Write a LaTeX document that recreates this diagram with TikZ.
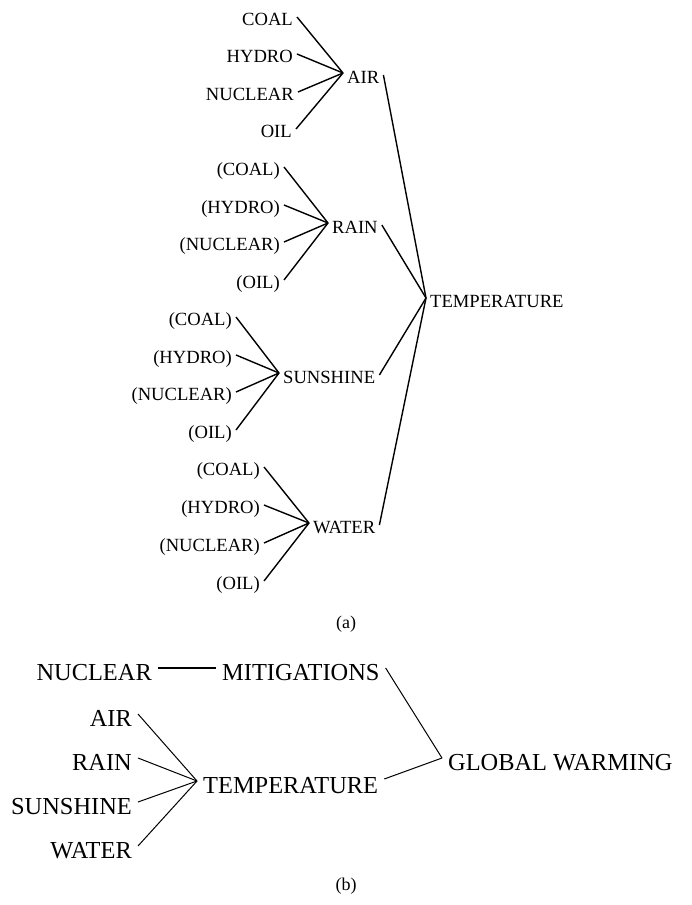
\documentclass[tikz,border=0pt]{standalone}
\usepackage{fontspec}
\setmainfont{Liberation Serif}
\begin{document}
\begin{tikzpicture}[x=1pt,y=-1pt,
  lbla/.style={inner xsep=4pt,inner ysep=0pt,text height=12.5pt,text depth=0pt,
               font=\fontsize{18.6}{20}\selectfont},
  lblb/.style={inner xsep=6pt,inner ysep=0pt,text height=16pt,text depth=0pt,
               font=\fontsize{24.4}{26}\selectfont},
  linka/.style={line width=1.4pt},
  linkb/.style={line width=1pt},
  sublabel/.style={inner sep=0pt,font=\fontsize{18}{20}\selectfont}]
\useasboundingbox (0,0) rectangle (691,905);

% ---------- (a) ----------
\node[lbla,anchor=west] (air) at (343,77) {AIR};
\node[lbla,anchor=west] (rain) at (328,227) {RAIN};
\node[lbla,anchor=west] (sun) at (279,377) {SUNSHINE};
\node[lbla,anchor=west] (water) at (309,527) {WATER};
\node[lbla,anchor=west] (temp) at (426,301) {TEMPERATURE};

% sources feeding AIR
\node[lbla,anchor=east] (a1) at (297,19) {COAL};
\node[lbla,anchor=east] (a2) at (297,56) {HYDRO};
\node[lbla,anchor=east] (a3) at (298,94) {NUCLEAR};
\node[lbla,anchor=east] (a4) at (296,131) {OIL};
% sources feeding RAIN
\node[lbla,anchor=east] (r1) at (284,169) {(COAL)};
\node[lbla,anchor=east] (r2) at (284,207) {(HYDRO)};
\node[lbla,anchor=east] (r3) at (284,244) {(NUCLEAR)};
\node[lbla,anchor=east] (r4) at (284,282) {(OIL)};
% sources feeding SUNSHINE
\node[lbla,anchor=east] (s1) at (236,319) {(COAL)};
\node[lbla,anchor=east] (s2) at (236,357) {(HYDRO)};
\node[lbla,anchor=east] (s3) at (236,394) {(NUCLEAR)};
\node[lbla,anchor=east] (s4) at (236,432) {(OIL)};
% sources feeding WATER
\node[lbla,anchor=east] (w1) at (264,469) {(COAL)};
\node[lbla,anchor=east] (w2) at (264,507) {(HYDRO)};
\node[lbla,anchor=east] (w3) at (264,545) {(NUCLEAR)};
\node[lbla,anchor=east] (w4) at (264,583) {(OIL)};

\foreach \s in {a1,a2,a3,a4}
  \draw[linka] ([yshift=2pt]\s.east) -- ([yshift=4pt]air.west);
\foreach \s in {r1,r2,r3,r4}
  \draw[linka] ([yshift=2pt]\s.east) -- ([yshift=4pt]rain.west);
\foreach \s in {s1,s2,s3,s4}
  \draw[linka] ([yshift=2pt]\s.east) -- ([yshift=4pt]sun.west);
\foreach \s in {w1,w2,w3,w4}
  \draw[linka] ([yshift=2pt]\s.east) -- ([yshift=4pt]water.west);
\foreach \s in {air,rain,sun,water}
  \draw[linka] ([yshift=2pt]\s.east) -- ([yshift=3pt]temp.west);

\node[sublabel] (capa) at (346,624) {(a)};

% ---------- (b) ----------
\node[lblb,anchor=east] (nuc) at (158,672) {NUCLEAR};
\node[lblb,anchor=west] (mit) at (216,672) {MITIGATIONS};
\node[lblb,anchor=west] (tempb) at (197,785) {TEMPERATURE};
\node[lblb,anchor=west] (gw) at (442,762) {GLOBAL WARMING};
\node[lblb,anchor=east] (bair) at (138,718) {AIR};
\node[lblb,anchor=east] (brain) at (138,762) {RAIN};
\node[lblb,anchor=east] (bsun) at (138,806) {SUNSHINE};
\node[lblb,anchor=east] (bwater) at (138,850) {WATER};

\draw[linka] ([yshift=4pt]nuc.east) -- ([yshift=4pt]mit.west);
\draw[linkb] ([yshift=4pt]mit.east) -- ([yshift=4pt]gw.west);
\draw[linkb] ([yshift=6pt]tempb.east) -- ([yshift=4pt]gw.west);
\foreach \s in {bair,brain,bsun,bwater}
  \draw[linkb] ([yshift=4pt]\s.east) -- ([yshift=4pt]tempb.west);

\node[sublabel] (capb) at (346,886) {(b)};
\end{tikzpicture}
\end{document}
